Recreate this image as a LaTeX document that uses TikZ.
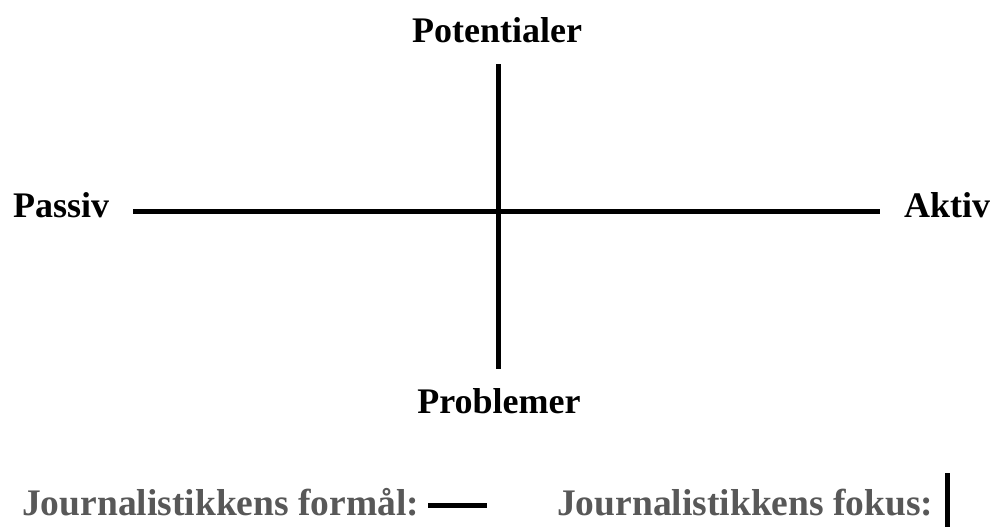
\documentclass[tikz,border=0pt]{standalone}
\usepackage{fontspec}
\setmainfont{Liberation Serif}
\definecolor{legendgray}{HTML}{585858}
\begin{document}
\begin{tikzpicture}[x=1pt,y=-1pt,
  axis/.style={line width=5pt},
  lbl/.style={font=\fontsize{36}{40}\selectfont\bfseries, inner sep=0pt},
  legtext/.style={font=\fontsize{37.5}{42}\selectfont\bfseries, inner sep=0pt, text=legendgray},
  legline/.style={line width=5pt}]
\useasboundingbox (0,0) rectangle (992,527);
\coordinate (top) at (498,64);
\coordinate (bot) at (498,369);
\coordinate (left) at (133,211.5);
\coordinate (right) at (880,211.5);
\draw[axis] (left) -- (right);
\draw[axis] (top) -- (bot);
\node[lbl, anchor=base] (pot) at (497,43) {Potentialer};
\node[lbl, anchor=base] (prob) at (499,413) {Problemer};
\node[lbl, anchor=base west] (pas) at (13,217) {Passiv};
\node[lbl, anchor=base west] (akt) at (904,217) {Aktiv};
\node[legtext, anchor=base west] (form) at (22,515) {Journalistikkens formål:};
\node[legtext, anchor=base west] (fok) at (557,515) {Journalistikkens fokus:};
\coordinate (f1) at (428,505);
\coordinate (f2) at (487,505);
\coordinate (k1) at (947,473);
\coordinate (k2) at (947,527);
\draw[legline] (f1) -- (f2);
\draw[legline] (k1) -- (k2);
\end{tikzpicture}
\end{document}
